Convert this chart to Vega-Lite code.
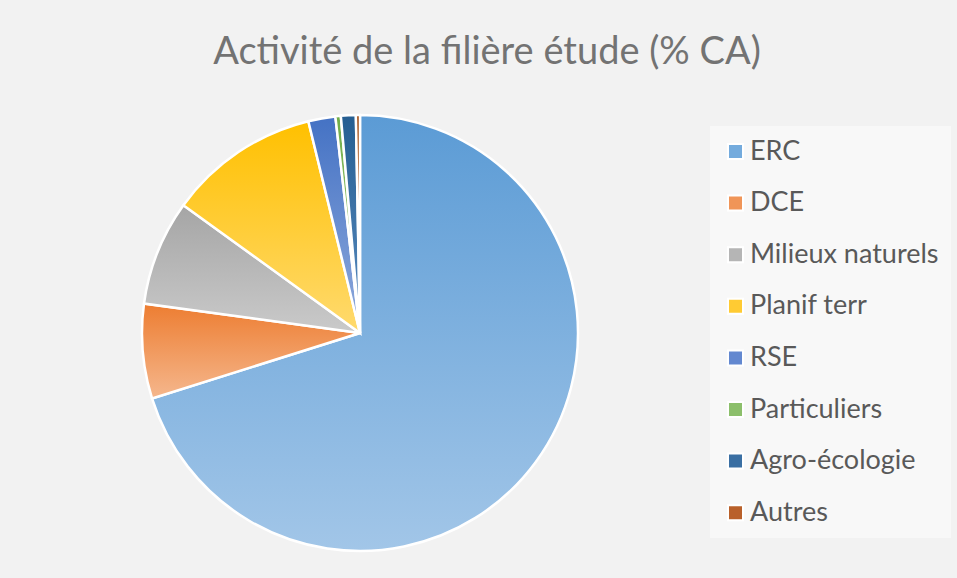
{
  "$schema": "https://vega.github.io/schema/vega-lite/v6.json",
  "autosize": "none",
  "width": 720,
  "height": 436,
  "padding": {"left": 0, "top": 115, "right": 237, "bottom": 27},
  "background": "#F2F2F2",
  "config": {"view": {"stroke": null}},
  "title": {
    "text": "Activité de la filière étude (% CA)",
    "font": "Lato",
    "fontSize": 38,
    "fontWeight": "normal",
    "color": "#737373",
    "anchor": "middle",
    "dx": 127,
    "offset": 38
  },
  "data": {
    "values": [
      {"cat": "ERC", "val": 70, "ord": 1},
      {"cat": "DCE", "val": 7, "ord": 2},
      {"cat": "Milieux naturels", "val": 7.8, "ord": 3},
      {"cat": "Planif terr", "val": 11.2, "ord": 4},
      {"cat": "RSE", "val": 2, "ord": 5},
      {"cat": "Particuliers", "val": 0.4, "ord": 6},
      {"cat": "Agro-écologie", "val": 1.1, "ord": 7},
      {"cat": "Autres", "val": 0.3, "ord": 8}
    ]
  },
  "encoding": {
    "theta": {"field": "val", "type": "quantitative", "stack": true},
    "order": {"field": "ord", "type": "quantitative"}
  },
  "layer": [
    {
      "mark": {"type": "arc"},
      "encoding": {
        "color": {
          "field": "cat",
          "type": "nominal",
          "scale": {
            "domain": ["ERC", "DCE", "Milieux naturels", "Planif terr", "RSE", "Particuliers", "Agro-écologie", "Autres"],
            "range": ["#74ABDD", "#F09558", "#B5B5B5", "#FFCB33", "#6388D0", "#8CBF6B", "#3A6FA3", "#B9602A"]
          },
          "legend": {
            "title": null,
            "orient": "none",
            "legendX": 710,
            "legendY": 11,
            "fillColor": "#F8F8F8",
            "padding": 12,
            "symbolType": "square",
            "symbolSize": 225,
            "symbolStrokeColor": "white",
            "symbolStrokeWidth": 2,
            "labelFont": "Lato",
            "labelFontSize": 27,
            "labelColor": "#595959",
            "labelOffset": 1,
            "rowPadding": 23.6,
            "labelLimit": 300
          }
        }
      }
    },
    {
      "mark": {"type": "arc", "stroke": "white", "strokeWidth": 2.5},
      "encoding": {
        "fill": {
          "condition": [
            {"test": "datum.cat === 'ERC'", "value": {"gradient": "linear", "x1": 0, "y1": 0, "x2": 0, "y2": 1, "stops": [{"offset": 0, "color": "#5B9BD5"}, {"offset": 1, "color": "#A2C6E8"}]}},
            {"test": "datum.cat === 'DCE'", "value": {"gradient": "linear", "x1": 0, "y1": 0, "x2": 0, "y2": 1, "stops": [{"offset": 0, "color": "#ED7D31"}, {"offset": 1, "color": "#F5B78D"}]}},
            {"test": "datum.cat === 'Milieux naturels'", "value": {"gradient": "linear", "x1": 0, "y1": 0, "x2": 0, "y2": 1, "stops": [{"offset": 0, "color": "#A5A5A5"}, {"offset": 1, "color": "#CACACA"}]}},
            {"test": "datum.cat === 'Planif terr'", "value": {"gradient": "linear", "x1": 0, "y1": 0, "x2": 0, "y2": 1, "stops": [{"offset": 0, "color": "#FFC000"}, {"offset": 1, "color": "#FFDA6E"}]}},
            {"test": "datum.cat === 'RSE'", "value": {"gradient": "linear", "x1": 0, "y1": 0, "x2": 0, "y2": 1, "stops": [{"offset": 0, "color": "#4472C4"}, {"offset": 1, "color": "#8FAADC"}]}},
            {"test": "datum.cat === 'Particuliers'", "value": {"gradient": "linear", "x1": 0, "y1": 0, "x2": 0, "y2": 1, "stops": [{"offset": 0, "color": "#70AD47"}, {"offset": 1, "color": "#A9D18E"}]}},
            {"test": "datum.cat === 'Agro-écologie'", "value": {"gradient": "linear", "x1": 0, "y1": 0, "x2": 0, "y2": 1, "stops": [{"offset": 0, "color": "#255E91"}, {"offset": 1, "color": "#5B8DC2"}]}}
          ],
          "value": {"gradient": "linear", "x1": 0, "y1": 0, "x2": 0, "y2": 1, "stops": [{"offset": 0, "color": "#9E480E"}, {"offset": 1, "color": "#D6864A"}]}
        }
      }
    }
  ]
}
